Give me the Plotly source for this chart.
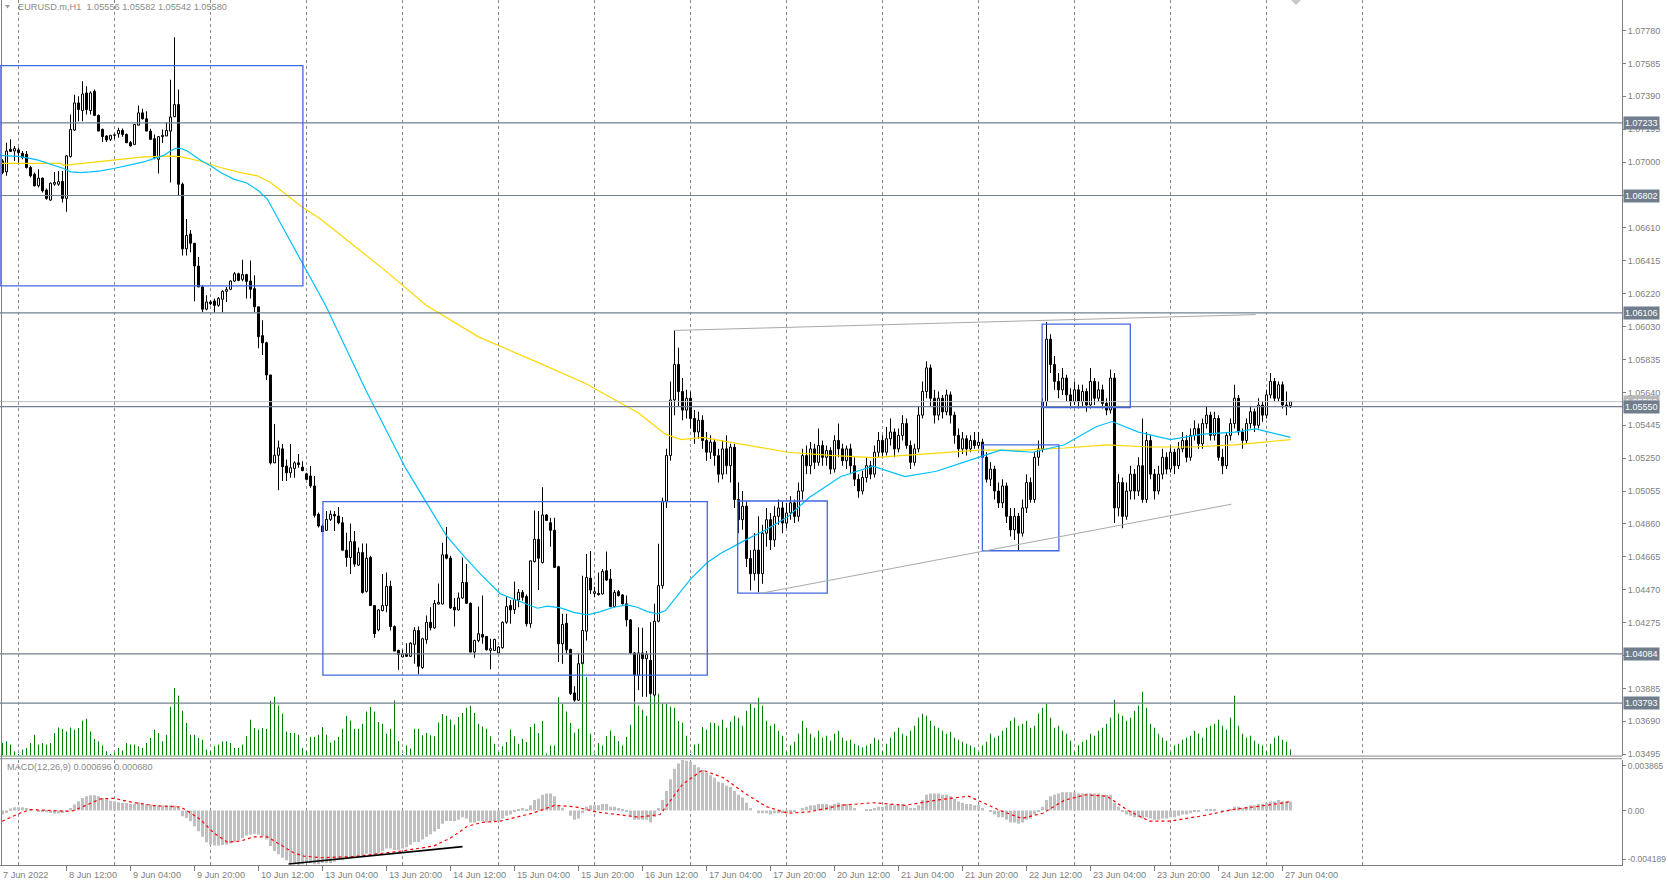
import plotly.graph_objects as go
import pandas as pd

# ---------------- data ----------------
opens = [
1.07007, 1.06942, 1.07076, 1.07066, 1.07072, 1.07052, 1.07046, 1.06968, 1.06928, 1.06860,
1.06905, 1.06834, 1.06775, 1.06869, 1.06869, 1.06885, 1.06785, 1.07033, 1.07190, 1.07351,
1.07306, 1.07410, 1.07306, 1.07420, 1.07277, 1.07194, 1.07155, 1.07135, 1.07159, 1.07168,
1.07188, 1.07164, 1.07115, 1.07105, 1.07219, 1.07292, 1.07257, 1.07184, 1.07139, 1.07017,
1.07151, 1.07155, 1.07184, 1.07269, 1.07341, 1.06869, 1.06486, 1.06574, 1.06519, 1.06384,
1.06260, 1.06128, 1.06171, 1.06177, 1.06151, 1.06187, 1.06234, 1.06246, 1.06295, 1.06338,
1.06305, 1.06333, 1.06295, 1.06250, 1.06142, 1.05971, 1.05929, 1.05738, 1.05217, 1.05262,
1.05300, 1.05198, 1.05158, 1.05184, 1.05217, 1.05192, 1.05152, 1.05139, 1.05080, 1.04912,
1.04843, 1.04817, 1.04882, 1.04912, 1.04902, 1.04862, 1.04699, 1.04656, 1.04750, 1.04611,
1.04685, 1.04455, 1.04656, 1.04371, 1.04227, 1.04341, 1.04371, 1.04485, 1.04247, 1.04105,
1.04066, 1.04086, 1.04070, 1.04141, 1.04223, 1.04003, 1.04168, 1.04272, 1.04239, 1.04380,
1.04380, 1.04672, 1.04652, 1.04361, 1.04345, 1.04416, 1.04508, 1.04384, 1.04095, 1.04164,
1.04200, 1.04188, 1.04105, 1.04105, 1.04090, 1.04121, 1.04272, 1.04371, 1.04347, 1.04404,
1.04449, 1.04424, 1.04263, 1.04632, 1.04764, 1.04626, 1.04908, 1.04862, 1.04817, 1.04601,
1.04144, 1.04266, 1.04111, 1.03853, 1.03810, 1.04026, 1.04219, 1.04534, 1.04443, 1.04443,
1.04440, 1.04577, 1.04528, 1.04365, 1.04453, 1.04434, 1.04381, 1.04286, 1.04090, 1.03958,
1.04090, 1.04056, 1.04046, 1.03840, 1.04278, 1.04489, 1.04990, 1.05261, 1.05590, 1.05800,
1.05640, 1.05530, 1.05600, 1.05480, 1.05400, 1.05470, 1.05350, 1.05280, 1.05340, 1.05260,
1.05150, 1.05300, 1.05200, 1.05310, 1.05000, 1.04880, 1.04960, 1.04650, 1.04560, 1.04700,
1.04560, 1.04800, 1.04880, 1.04760, 1.04900, 1.04950, 1.04860, 1.04920, 1.04980, 1.04900,
1.05050, 1.05260, 1.05200, 1.05300, 1.05220, 1.05320, 1.05250, 1.05290, 1.05180, 1.05350,
1.05300, 1.05230, 1.05300, 1.05200, 1.05120, 1.05050, 1.05130, 1.05200, 1.05150, 1.05280,
1.05350, 1.05280, 1.05360, 1.05400, 1.05300, 1.05380, 1.05450, 1.05320, 1.05220, 1.05300,
1.05500, 1.05640, 1.05780, 1.05600, 1.05500, 1.05600, 1.05520, 1.05620, 1.05500, 1.05380,
1.05300, 1.05360, 1.05300, 1.05350, 1.05320, 1.05340, 1.05250, 1.05120, 1.05180, 1.05050,
1.04980, 1.05080, 1.04900, 1.04820, 1.04900, 1.04800, 1.04950, 1.05100, 1.05000, 1.05250,
1.05300, 1.05580, 1.05950, 1.05800, 1.05700, 1.05650, 1.05720, 1.05620, 1.05580, 1.05650,
1.05580, 1.05640, 1.05560, 1.05700, 1.05600, 1.05650, 1.05570, 1.05530, 1.05720, 1.04950,
1.05100, 1.04900, 1.05050, 1.05150, 1.05050, 1.05200, 1.05000, 1.05350, 1.05150, 1.05050,
1.05150, 1.05250, 1.05180, 1.05280, 1.05200, 1.05300, 1.05350, 1.05250, 1.05380, 1.05420,
1.05330, 1.05450, 1.05500, 1.05380, 1.05480, 1.05250, 1.05200, 1.05380, 1.05450, 1.05600,
1.05400, 1.05350, 1.05450, 1.05520, 1.05440, 1.05560, 1.05500, 1.05620, 1.05700, 1.05600,
1.05680, 1.05560, 1.05556]

highs = [
1.07017, 1.07115, 1.07135, 1.07096, 1.07086, 1.07066, 1.07066, 1.06978, 1.06938, 1.06958,
1.06909, 1.06844, 1.06879, 1.06942, 1.06948, 1.06948, 1.07041, 1.07282, 1.07400, 1.07391,
1.07479, 1.07450, 1.07420, 1.07430, 1.07282, 1.07200, 1.07159, 1.07159, 1.07170, 1.07204,
1.07200, 1.07170, 1.07125, 1.07227, 1.07336, 1.07316, 1.07302, 1.07198, 1.07164, 1.07155,
1.07194, 1.07237, 1.07489, 1.07741, 1.07430, 1.06879, 1.06663, 1.06598, 1.06519, 1.06437,
1.06270, 1.06211, 1.06181, 1.06191, 1.06201, 1.06240, 1.06260, 1.06299, 1.06348, 1.06344,
1.06421, 1.06338, 1.06417, 1.06329, 1.06142, 1.06063, 1.05935, 1.05738, 1.05447, 1.05349,
1.05329, 1.05237, 1.05329, 1.05227, 1.05270, 1.05227, 1.05158, 1.05198, 1.05139, 1.04922,
1.04853, 1.04931, 1.04935, 1.04931, 1.04955, 1.04896, 1.04803, 1.04857, 1.04813, 1.04715,
1.04739, 1.04739, 1.04666, 1.04371, 1.04351, 1.04558, 1.04567, 1.04518, 1.04253, 1.04109,
1.04109, 1.04148, 1.04154, 1.04243, 1.04247, 1.04180, 1.04312, 1.04361, 1.04404, 1.04502,
1.04744, 1.04837, 1.04666, 1.04416, 1.04449, 1.04656, 1.04617, 1.04390, 1.04168, 1.04365,
1.04430, 1.04188, 1.04174, 1.04174, 1.04129, 1.04276, 1.04424, 1.04404, 1.04514, 1.04469,
1.04463, 1.04436, 1.04640, 1.04935, 1.04931, 1.05073, 1.04912, 1.04892, 1.04892, 1.04607,
1.04322, 1.04322, 1.04115, 1.03893, 1.04086, 1.04548, 1.04676, 1.04695, 1.04483, 1.04567,
1.04587, 1.04691, 1.04587, 1.04463, 1.04463, 1.04440, 1.04430, 1.04292, 1.04095, 1.04243,
1.04239, 1.04101, 1.04272, 1.04381, 1.04738, 1.05010, 1.05300, 1.05700, 1.06002, 1.05900,
1.05720, 1.05650, 1.05640, 1.05530, 1.05520, 1.05500, 1.05400, 1.05380, 1.05360, 1.05300,
1.05350, 1.05380, 1.05330, 1.05330, 1.05100, 1.05050, 1.04990, 1.04700, 1.04800, 1.04900,
1.04850, 1.04950, 1.04920, 1.04960, 1.05000, 1.04990, 1.04980, 1.05020, 1.05000, 1.05100,
1.05300, 1.05320, 1.05340, 1.05330, 1.05420, 1.05350, 1.05320, 1.05310, 1.05380, 1.05450,
1.05330, 1.05320, 1.05330, 1.05250, 1.05150, 1.05170, 1.05250, 1.05230, 1.05320, 1.05400,
1.05380, 1.05430, 1.05480, 1.05420, 1.05420, 1.05500, 1.05480, 1.05350, 1.05330, 1.05550,
1.05700, 1.05820, 1.05800, 1.05650, 1.05640, 1.05620, 1.05650, 1.05640, 1.05520, 1.05420,
1.05400, 1.05380, 1.05380, 1.05400, 1.05400, 1.05360, 1.05280, 1.05220, 1.05200, 1.05100,
1.05120, 1.05100, 1.04950, 1.04950, 1.04920, 1.05000, 1.05150, 1.05130, 1.05280, 1.05350,
1.05600, 1.06052, 1.05980, 1.05850, 1.05750, 1.05780, 1.05740, 1.05660, 1.05700, 1.05680,
1.05680, 1.05660, 1.05780, 1.05720, 1.05700, 1.05680, 1.05600, 1.05770, 1.05750, 1.05150,
1.05130, 1.05100, 1.05200, 1.05180, 1.05250, 1.05480, 1.05400, 1.05380, 1.05180, 1.05200,
1.05300, 1.05280, 1.05320, 1.05300, 1.05340, 1.05400, 1.05380, 1.05420, 1.05470, 1.05450,
1.05480, 1.05550, 1.05520, 1.05520, 1.05500, 1.05300, 1.05400, 1.05480, 1.05680, 1.05620,
1.05420, 1.05480, 1.05550, 1.05540, 1.05600, 1.05580, 1.05650, 1.05750, 1.05720, 1.05700,
1.05700, 1.05640, 1.05582]

lows = [
1.06928, 1.06919, 1.07060, 1.07007, 1.06997, 1.07017, 1.06962, 1.06909, 1.06856, 1.06850,
1.06820, 1.06777, 1.06771, 1.06860, 1.06860, 1.06761, 1.06706, 1.07027, 1.07184, 1.07243,
1.07243, 1.07282, 1.07282, 1.07277, 1.07184, 1.07119, 1.07119, 1.07125, 1.07135, 1.07145,
1.07151, 1.07115, 1.07092, 1.07101, 1.07219, 1.07253, 1.07184, 1.07131, 1.07017, 1.06932,
1.07115, 1.07155, 1.06879, 1.07269, 1.06801, 1.06447, 1.06447, 1.06466, 1.06175, 1.06260,
1.06112, 1.06122, 1.06151, 1.06108, 1.06142, 1.06108, 1.06171, 1.06240, 1.06289, 1.06293,
1.06293, 1.06191, 1.06191, 1.06112, 1.05896, 1.05856, 1.05709, 1.05207, 1.05217, 1.05054,
1.05109, 1.05109, 1.05129, 1.05129, 1.05188, 1.05168, 1.05119, 1.05070, 1.04893, 1.04834,
1.04809, 1.04813, 1.04872, 1.04813, 1.04853, 1.04699, 1.04601, 1.04558, 1.04601, 1.04605,
1.04443, 1.04449, 1.04371, 1.04180, 1.04219, 1.04337, 1.04331, 1.04223, 1.04101, 1.03991,
1.04066, 1.04066, 1.04066, 1.04026, 1.03964, 1.03997, 1.04144, 1.04223, 1.04233, 1.04377,
1.04377, 1.04646, 1.04351, 1.04247, 1.04341, 1.04410, 1.04380, 1.04095, 1.04062, 1.04154,
1.04144, 1.04105, 1.03993, 1.04101, 1.04086, 1.04115, 1.04263, 1.04263, 1.04321, 1.04361,
1.04400, 1.04247, 1.04239, 1.04626, 1.04463, 1.04621, 1.04872, 1.04719, 1.04593, 1.04036,
1.04026, 1.04082, 1.03840, 1.03800, 1.03806, 1.04011, 1.04164, 1.04440, 1.04420, 1.04430,
1.04436, 1.04518, 1.04361, 1.04361, 1.04424, 1.04377, 1.04247, 1.04082, 1.03800, 1.03869,
1.03830, 1.03830, 1.03830, 1.03820, 1.04272, 1.04470, 1.04950, 1.05230, 1.05500, 1.05550,
1.05470, 1.05480, 1.05420, 1.05330, 1.05360, 1.05300, 1.05230, 1.05240, 1.05200, 1.05100,
1.05120, 1.05150, 1.05100, 1.04950, 1.04800, 1.04820, 1.04600, 1.04460, 1.04520, 1.04450,
1.04500, 1.04720, 1.04700, 1.04720, 1.04850, 1.04800, 1.04830, 1.04880, 1.04860, 1.04870,
1.05000, 1.05150, 1.05150, 1.05180, 1.05200, 1.05200, 1.05200, 1.05150, 1.05160, 1.05250,
1.05200, 1.05180, 1.05150, 1.05080, 1.05010, 1.05030, 1.05100, 1.05120, 1.05130, 1.05250,
1.05250, 1.05260, 1.05320, 1.05250, 1.05280, 1.05350, 1.05300, 1.05180, 1.05200, 1.05280,
1.05480, 1.05600, 1.05550, 1.05450, 1.05470, 1.05480, 1.05500, 1.05450, 1.05330, 1.05250,
1.05270, 1.05260, 1.05280, 1.05300, 1.05300, 1.05200, 1.05100, 1.05080, 1.05000, 1.04950,
1.04950, 1.04860, 1.04780, 1.04760, 1.04700, 1.04780, 1.04920, 1.04980, 1.04980, 1.05200,
1.05280, 1.05550, 1.05750, 1.05650, 1.05600, 1.05620, 1.05580, 1.05540, 1.05560, 1.05540,
1.05550, 1.05520, 1.05540, 1.05560, 1.05580, 1.05540, 1.05500, 1.05510, 1.04860, 1.04900,
1.04830, 1.04880, 1.05000, 1.05000, 1.05020, 1.04980, 1.04980, 1.05120, 1.05000, 1.05030,
1.05120, 1.05150, 1.05160, 1.05150, 1.05180, 1.05280, 1.05220, 1.05230, 1.05350, 1.05300,
1.05300, 1.05420, 1.05350, 1.05350, 1.05230, 1.05150, 1.05180, 1.05350, 1.05420, 1.05380,
1.05300, 1.05330, 1.05420, 1.05400, 1.05420, 1.05460, 1.05480, 1.05600, 1.05580, 1.05580,
1.05540, 1.05500, 1.05542]

closes = [
1.06938, 1.07066, 1.07064, 1.07080, 1.07056, 1.07027, 1.06968, 1.06919, 1.06860, 1.06905,
1.06830, 1.06785, 1.06875, 1.06879, 1.06885, 1.06785, 1.07037, 1.07194, 1.07351, 1.07312,
1.07404, 1.07312, 1.07410, 1.07277, 1.07184, 1.07151, 1.07131, 1.07159, 1.07162, 1.07188,
1.07164, 1.07115, 1.07096, 1.07223, 1.07292, 1.07257, 1.07184, 1.07135, 1.07027, 1.07151,
1.07159, 1.07188, 1.07267, 1.07341, 1.06869, 1.06486, 1.06565, 1.06519, 1.06384, 1.06260,
1.06128, 1.06171, 1.06161, 1.06151, 1.06191, 1.06234, 1.06244, 1.06295, 1.06338, 1.06299,
1.06333, 1.06293, 1.06246, 1.06142, 1.05965, 1.05929, 1.05738, 1.05217, 1.05262, 1.05306,
1.05194, 1.05158, 1.05188, 1.05217, 1.05207, 1.05172, 1.05119, 1.05080, 1.04906, 1.04843,
1.04809, 1.04882, 1.04912, 1.04902, 1.04862, 1.04699, 1.04656, 1.04750, 1.04617, 1.04685,
1.04449, 1.04652, 1.04371, 1.04204, 1.04345, 1.04371, 1.04485, 1.04247, 1.04101, 1.04082,
1.04082, 1.04070, 1.04148, 1.04223, 1.04011, 1.04174, 1.04272, 1.04239, 1.04384, 1.04390,
1.04672, 1.04652, 1.04357, 1.04345, 1.04416, 1.04508, 1.04384, 1.04095, 1.04164, 1.04204,
1.04184, 1.04109, 1.04115, 1.04170, 1.04125, 1.04272, 1.04365, 1.04345, 1.04406, 1.04449,
1.04420, 1.04263, 1.04636, 1.04764, 1.04652, 1.04908, 1.04876, 1.04817, 1.04597, 1.04144,
1.04259, 1.04109, 1.03850, 1.03810, 1.04026, 1.04223, 1.04538, 1.04463, 1.04453, 1.04436,
1.04573, 1.04522, 1.04365, 1.04449, 1.04430, 1.04381, 1.04286, 1.04090, 1.03958, 1.04090,
1.04056, 1.04080, 1.03850, 1.04278, 1.04489, 1.04990, 1.05261, 1.05590, 1.05800, 1.05640,
1.05530, 1.05600, 1.05480, 1.05400, 1.05470, 1.05350, 1.05280, 1.05340, 1.05260, 1.05150,
1.05300, 1.05200, 1.05310, 1.05000, 1.04880, 1.04960, 1.04650, 1.04560, 1.04700, 1.04560,
1.04800, 1.04880, 1.04760, 1.04900, 1.04950, 1.04860, 1.04920, 1.04980, 1.04900, 1.05050,
1.05260, 1.05200, 1.05300, 1.05220, 1.05320, 1.05250, 1.05290, 1.05180, 1.05350, 1.05300,
1.05230, 1.05300, 1.05200, 1.05120, 1.05050, 1.05130, 1.05200, 1.05150, 1.05280, 1.05350,
1.05280, 1.05360, 1.05400, 1.05300, 1.05380, 1.05450, 1.05320, 1.05220, 1.05300, 1.05500,
1.05640, 1.05780, 1.05600, 1.05500, 1.05600, 1.05520, 1.05620, 1.05500, 1.05380, 1.05300,
1.05360, 1.05300, 1.05350, 1.05320, 1.05340, 1.05250, 1.05120, 1.05180, 1.05050, 1.04980,
1.05080, 1.04900, 1.04820, 1.04900, 1.04800, 1.04950, 1.05100, 1.05000, 1.05250, 1.05300,
1.05580, 1.05950, 1.05800, 1.05700, 1.05650, 1.05720, 1.05620, 1.05580, 1.05650, 1.05580,
1.05640, 1.05560, 1.05700, 1.05600, 1.05650, 1.05570, 1.05530, 1.05720, 1.04950, 1.05100,
1.04900, 1.05050, 1.05150, 1.05050, 1.05200, 1.05000, 1.05350, 1.05150, 1.05050, 1.05150,
1.05250, 1.05180, 1.05280, 1.05200, 1.05300, 1.05350, 1.05250, 1.05380, 1.05420, 1.05330,
1.05450, 1.05500, 1.05380, 1.05480, 1.05250, 1.05200, 1.05380, 1.05450, 1.05600, 1.05400,
1.05350, 1.05450, 1.05520, 1.05440, 1.05560, 1.05500, 1.05620, 1.05700, 1.05600, 1.05680,
1.05560, 1.05556, 1.05580]

# tick volume (hundreds of ticks)
volumes = [
12.7, 14.3, 11, 4.3, 1, 6, 7.7, 12.7, 21, 11,
12.7, 11, 12.7, 22.7, 28.3, 26.7, 24.3, 28.3, 26, 27.7,
35.3, 37, 24.3, 16.7, 14.3, 10, 4.3, 1, 2.7, 7.7,
5, 12.7, 11, 11, 9.3, 7.7, 12.7, 17.7, 26, 22.7,
14.3, 21, 49, 68, 60, 45, 32.7, 21, 21, 17.7,
16, 6, 4.3, 9.3, 11, 14.3, 14.3, 12.7, 7.7, 7.7,
11, 19.3, 36, 27.7, 26, 27.7, 26.7, 55, 59, 50,
42, 24.3, 22.7, 22.7, 21, 7.7, 4.7, 18.7, 18.7, 21,
28.7, 21, 13, 15.3, 18.7, 27, 39.7, 35.3, 27, 27,
32, 44.3, 48.7, 44.3, 33.7, 32, 22, 27, 55.3, 14.7,
1, 10, 7, 27, 27, 20.3, 22.7, 20.3, 19.3, 33,
41.7, 40, 36.3, 31, 38.7, 42.7, 48, 50, 42.7, 32,
29.3, 27, 19.3, 12, 3.3, 9.3, 13.7, 26, 19.3, 12,
17, 13.7, 28.7, 32, 22.7, 34.7, 2, 10, 10, 58.7,
52, 44.3, 32.7, 23, 27, 94, 79, 22, 2, 12.7,
10, 19.3, 25.3, 19.3, 14.7, 10, 18.7, 31, 53.3, 50,
46, 40, 61, 59, 62, 52, 52, 49, 48, 34.7,
33, 20, 1.3, 11, 12, 28.7, 26, 33, 32.7, 30,
36, 28, 34, 40, 38, 30, 45, 52, 48, 58,
50, 35, 30, 32, 25, 20, 4, 10, 14, 22,
35, 28, 22, 18, 25, 18, 20, 15, 22, 25,
18, 15, 16, 12, 10, 8, 10, 12, 18, 16,
4, 12, 18, 24, 28, 22, 20, 25, 30, 38,
42, 40, 35, 30, 28, 25, 22, 24, 18, 16,
14, 12, 10, 8, 3, 10, 14, 22, 18, 20,
25, 28, 35, 38, 30, 32, 35, 28, 30, 42,
48, 52, 38, 28, 30, 25, 22, 15, 4, 10,
14, 16, 22, 20, 25, 28, 32, 38, 56, 42,
40, 35, 38, 45, 50, 64, 48, 32, 28, 22,
18, 15, 3, 10, 12, 16, 18, 20, 25, 22,
18, 28, 30, 32, 36, 30, 26, 38, 60, 30,
22, 18, 20, 15, 12, 10, 4, 12, 18, 20,
16, 14, 6]

macd_main = [
-0.00030, -0.00018, 0.00015, 0.00025, 0.00025, 0.00025, 0.00020, 0.00008, 0.0, -0.00005,
-0.00005, -0.00013, -0.00018, -0.00023, -0.00023, -0.00018, -0.00005, 0.00020, 0.00046, 0.00071,
0.00096, 0.00109, 0.00117, 0.00117, 0.00109, 0.00096, 0.00084, 0.00076, 0.00071, 0.00063,
0.00058, 0.00058, 0.00051, 0.00053, 0.00063, 0.00058, 0.00051, 0.00046, 0.00038, 0.00038,
0.00038, 0.00038, 0.00041, 0.00038, 0.00028, -0.00043, -0.00056, -0.00081, -0.00119, -0.00157,
-0.00200, -0.00241, -0.00258, -0.00266, -0.00266, -0.00263, -0.00258, -0.00251, -0.00241, -0.00225,
-0.00210, -0.00190, -0.00182, -0.00177, -0.00182, -0.00195, -0.00220, -0.00271, -0.00309, -0.00334,
-0.00360, -0.00380, -0.00400, -0.00410, -0.00419, -0.00410, -0.00400, -0.00400, -0.00410, -0.00410,
-0.00400, -0.00400, -0.00400, -0.00390, -0.00380, -0.00380, -0.00370, -0.00360, -0.00350, -0.00340,
-0.00350, -0.00330, -0.00330, -0.00340, -0.00330, -0.00310, -0.00290, -0.00290, -0.00300, -0.00300,
-0.00290, -0.00280, -0.00260, -0.00240, -0.00240, -0.00220, -0.00200, -0.00180, -0.00160, -0.00140,
-0.00100, -0.00080, -0.00080, -0.00080, -0.00070, -0.00050, -0.00060, -0.00090, -0.00090, -0.00080,
-0.00080, -0.00090, -0.00090, -0.00080, -0.00080, -0.00060, -0.00040, -0.00030, -0.00010, 0.00010,
0.00020, 0.00010, 0.00040, 0.00080, 0.00090, 0.00120, 0.00130, 0.00130, 0.00110, 0.00040,
0.00020, 0.00000, -0.00040, -0.00070, -0.00060, -0.00020, 0.00030, 0.00040, 0.00040, 0.00040,
0.00050, 0.00050, 0.00030, 0.00030, 0.00020, 0.00010, -0.00010, -0.00040, -0.00070, -0.00070,
-0.00070, -0.00070, -0.00090, -0.00050, 0.00020, 0.00080, 0.00150, 0.00240, 0.00320, 0.00360,
0.003865, 0.00380, 0.00370, 0.00350, 0.00330, 0.00310, 0.00290, 0.00270, 0.00250, 0.00220,
0.00210, 0.00190, 0.00180, 0.00150, 0.00120, 0.00100, 0.00060, 0.00020, 0.00000, -0.00020,
-0.00020, -0.00020, -0.00030, -0.00020, -0.00020, -0.00020, -0.00020, -0.00010, -0.00010, 0.00000,
0.00020, 0.00030, 0.00040, 0.00040, 0.00050, 0.00050, 0.00050, 0.00040, 0.00050, 0.00060,
0.00050, 0.00050, 0.00040, 0.00020, 0.00000, 0.00000, 0.00010, 0.00010, 0.00020, 0.00030,
0.00030, 0.00040, 0.00050, 0.00040, 0.00040, 0.00050, 0.00040, 0.00020, 0.00020, 0.00040,
0.00080, 0.00120, 0.00130, 0.00130, 0.00130, 0.00120, 0.00120, 0.00110, 0.00090, 0.00070,
0.00060, 0.00050, 0.00050, 0.00040, 0.00040, 0.00020, 0.00000, -0.00010, -0.00030, -0.00050,
-0.00050, -0.00070, -0.00090, -0.00090, -0.00100, -0.00090, -0.00070, -0.00060, -0.00030, -0.00010,
0.00030, 0.00080, 0.00110, 0.00120, 0.00130, 0.00140, 0.00140, 0.00140, 0.00140, 0.00130,
0.00130, 0.00130, 0.00130, 0.00130, 0.00130, 0.00120, 0.00120, 0.00120, 0.00060, 0.00030,
-0.00010, -0.00030, -0.00040, -0.00050, -0.00050, -0.00060, -0.00050, -0.00060, -0.00070, -0.00070,
-0.00060, -0.00060, -0.00050, -0.00050, -0.00040, -0.00030, -0.00030, -0.00020, -0.00010, -0.00010,
0.00000, 0.00010, 0.00010, 0.00010, 0.00000, -0.00010, 0.00000, 0.00010, 0.00030, 0.00030,
0.00020, 0.00030, 0.00040, 0.00040, 0.00050, 0.00050, 0.00060, 0.00070, 0.00070, 0.00080,
0.00070, 0.00070, 0.000696]

signal_idx = [-0.1, 4.5, 7, 10.3, 16.2, 17.8, 21.2, 24.5, 27.8, 32, 37.8, 44.5, 47, 49.5, 52.8,
              56.2, 59.5, 62.8, 66.2, 69.5, 72.8, 75.3, 80, 88, 99.5, 107.8, 112, 116.2, 120,
              124.5, 132.5, 138, 143, 148.4, 159, 164.4, 170, 175, 180.3, 185.7, 191, 196.3,
              201.6, 209.6, 217.6, 225.6, 233.5, 241.5, 249.5, 254.8, 260.1, 265.5, 270.8,
              276.1, 281.4, 286.7, 292, 300, 308, 316, 322]
signal_val = [-0.00081, -0.00018, 0.00008, 0.00003, -0.00005, 0.0, 0.00046, 0.00089, 0.00094,
              0.00066, 0.00038, 0.00028, -0.00018, -0.00068, -0.0017, -0.00241, -0.00233, -0.002,
              -0.002, -0.00258, -0.00322, -0.00347, -0.0036, -0.0035, -0.0031, -0.0027, -0.0021,
              -0.0012, -0.0009, -0.0008, -0.0002, 0.0004, 0.0003, -0.0001, -0.0005, -0.0003,
              0.0020, 0.0031, 0.0025, 0.0013, 0.0003, -0.0002, -0.0001, 0.0004, 0.0006, 0.0004,
              0.0008, 0.0011, 0.0000, -0.0006, -0.0002, 0.0008, 0.0012, 0.0011, 0.0000, -0.0008,
              -0.0008, -0.0004, 0.0001, 0.0004, 0.00068]

ma_fast_idx = [-0.6, 4.5, 8.7, 12, 15.3, 17, 19.5, 22, 24.5, 27.8, 30.3, 32.8, 35.3, 37.8, 40.3,
               42, 43.25, 44.5, 46.2, 49.5, 52, 54.5, 57.8, 61.2, 64, 66.2, 68.7, 71.2, 74.9, 77.8,
               80.75, 91, 100.75, 105.75, 111, 115.3, 119.5, 124.5, 128.7, 133.7, 136.2, 139.5,
               142.8, 146.2, 149.5, 152.8, 156.2, 158.7, 161.2, 163.7, 165.75, 168.7, 172, 176.2,
               179.5, 185.7, 191, 196.3, 201.6, 209.6, 217.6, 225.6, 233.5, 241.5, 249.5, 257.5,
               265.5, 273.4, 277.4, 284, 292, 300, 308, 313.3, 322]
ma_fast_val = [1.07040, 1.07033, 1.07013, 1.06987, 1.06962, 1.06942, 1.06938, 1.06942, 1.06948,
               1.06962, 1.06974, 1.06987, 1.07001, 1.07021, 1.07040, 1.07066, 1.07082, 1.07082,
               1.07066, 1.07011, 1.06978, 1.06938, 1.06899, 1.06875, 1.06830, 1.06781, 1.06673,
               1.06564, 1.06407, 1.06279, 1.06151, 1.05640, 1.05187, 1.04990, 1.04784, 1.04665,
               1.04557, 1.04440, 1.04400, 1.04355, 1.04367, 1.04357, 1.04331, 1.04316, 1.04335,
               1.04361, 1.04375, 1.04361, 1.04335, 1.04322, 1.04341, 1.04430, 1.04528, 1.04626,
               1.04680, 1.04759, 1.04822, 1.04897, 1.05010, 1.05136, 1.05198, 1.05136, 1.05167,
               1.05230, 1.05292, 1.05280, 1.05324, 1.05431, 1.05462, 1.05399, 1.05355, 1.05387,
               1.05399, 1.05418, 1.05368]

ma_slow_idx = [-0.6, 14.5, 15.3, 21.2, 27.8, 35.3, 42, 44.5, 49.5, 54.5, 59.5, 63.7, 67, 71.2, 75,
               79.5, 83.7, 87, 95, 106, 119, 132.5, 145.8, 159, 165.7, 169.7, 175, 185.7, 196.3,
               207, 217.6, 225.6, 233.5, 244.2, 254.8, 265.5, 276.1, 286.7, 297.4, 308, 322]
ma_slow_val = [1.06993, 1.06993, 1.06981, 1.06997, 1.07015, 1.07031, 1.07035, 1.07033, 1.07005,
               1.06968, 1.06938, 1.06919, 1.06879, 1.06801, 1.06732, 1.06663, 1.06584, 1.06525,
               1.06370, 1.06150, 1.05964, 1.05826, 1.05688, 1.05512, 1.05387, 1.05355, 1.05368,
               1.05324, 1.05280, 1.05261, 1.05248, 1.05261, 1.05274, 1.05292, 1.05292, 1.05305,
               1.05324, 1.05311, 1.05311, 1.05324, 1.05355]

level_prices = [1.07233, 1.06802, 1.06106, 1.05550, 1.04084, 1.03793]
bid_price = 1.05580
price_tick_text = ["1.07780", "1.07585", "1.07390", "1.07195", "1.07000", "", "1.06610",
                   "1.06415", "1.06220", "1.06030", "1.05835", "1.05640", "1.05445", "1.05250",
                   "1.05055", "1.04860", "1.04665", "1.04470", "1.04275", "", "1.03885",
                   "1.03690", "1.03495"]
price_tick_top = 1.07780
price_tick_step = 0.00195

box_x0 = [-0.6, 80.1, 183.8, 244.97, 259.9]
box_x1 = [75.1, 176.2, 206.2, 264.1, 281.95]
box_y0 = [1.06266, 1.03958, 1.04445, 1.04696, 1.05544]
box_y1 = [1.07572, 1.04987, 1.04991, 1.05324, 1.06040]

trend_x0 = [167.8, 189.9]
trend_y0 = [1.06002, 1.04445]
trend_x1 = [313.3, 307.2]
trend_y1 = [1.06096, 1.04972]

macd_line_x = [71.5, 115.0]
macd_line_y = [-0.00408, -0.00275]

macd_max_label, macd_min_label = "0.003865", "-0.004189"
macd_range = [-0.004189, 0.003865]
header_text = "EURUSD.m,H1  1.05556 1.05582 1.05542 1.05580"
macd_text = "MACD(12,26,9) 0.000696 0.000680"
start_time = "2022-06-07 20:00"

# ---------------- geometry ----------------
W, H = 1668, 886
PLOT_R = 1622.0
MAIN_BOT = 759.0
MACD_TOP, MACD_BOT = 763.4, 869.4
FONT = "Liberation Sans, Arial, sans-serif"
GREY = "#808080"
FS = 9.2


def fx(px):
    return px / W


def fy(py):
    return 1 - py / H


n = len(closes)
idx = list(range(n))

# hourly bars without weekends
hrs = pd.date_range(start_time, periods=24 * 40, freq="h")
hrs = hrs[hrs.dayofweek < 5]
day_starts = [i for i in range(0, 345) if hrs[i].hour == 0]
label_idx = [i for i in range(16, n, 16)]
label_txt = [f"{hrs[i].day} {hrs[i].strftime('%b')} {hrs[i].strftime('%H:%M')}" for i in label_idx]

fig = go.Figure()

# candles: wicks then bodies
wick_h = [h - l for h, l in zip(highs, lows)]
fig.add_trace(go.Bar(x=idx, base=lows, y=wick_h, width=0.25,
                     marker=dict(color="black", line=dict(width=0)),
                     hoverinfo="skip", yaxis="y"))
body_base = [min(o, c) for o, c in zip(opens, closes)]
body_h = [max(abs(c - o), 0.00001) for o, c in zip(opens, closes)]
body_col = ["white" if c >= o else "black" for o, c in zip(opens, closes)]
fig.add_trace(go.Bar(x=idx, base=body_base, y=body_h, width=0.5,
                     marker=dict(color=body_col, line=dict(color="black", width=1)),
                     hoverinfo="skip", yaxis="y"))

# moving averages
fig.add_trace(go.Scatter(x=ma_slow_idx, y=ma_slow_val, mode="lines",
                         line=dict(color="#FFD700", width=1.2), hoverinfo="skip", yaxis="y"))
fig.add_trace(go.Scatter(x=ma_fast_idx, y=ma_fast_val, mode="lines",
                         line=dict(color="#00BFFF", width=1.2), hoverinfo="skip", yaxis="y"))

# volumes
fig.add_trace(go.Bar(x=idx, y=volumes, width=0.25,
                     marker=dict(color="#008000", line=dict(width=0)),
                     hoverinfo="skip", yaxis="y2"))

# MACD
fig.add_trace(go.Bar(x=idx, y=macd_main, width=0.75,
                     marker=dict(color="#C0C0C0", line=dict(width=0)),
                     hoverinfo="skip", yaxis="y3"))
fig.add_trace(go.Scatter(x=signal_idx, y=signal_val, mode="lines",
                         line=dict(color="#FF0000", width=1.2, dash="dot"),
                         hoverinfo="skip", yaxis="y3"))
fig.add_trace(go.Scatter(x=macd_line_x, y=macd_line_y, mode="lines",
                         line=dict(color="black", width=1.6), hoverinfo="skip", yaxis="y3"))

shapes = []
# dashed day grid
for d in day_starts:
    for (a, b) in [(0, MAIN_BOT), (MACD_TOP, MACD_BOT)]:
        shapes.append(dict(type="line", xref="x", yref="paper", x0=d, x1=d,
                           y0=fy(a), y1=fy(b), layer="below",
                           line=dict(color="#8C8C8C", width=1, dash="3px,3px")))
# horizontal levels
for p in level_prices:
    shapes.append(dict(type="line", xref="paper", yref="y", x0=0, x1=fx(PLOT_R), y0=p, y1=p,
                       line=dict(color="#708090", width=1.2)))
shapes.append(dict(type="line", xref="paper", yref="y", x0=0, x1=fx(PLOT_R), y0=bid_price,
                   y1=bid_price, line=dict(color="#C0C0C0", width=1)))
# rectangles
for a, b, c, d in zip(box_x0, box_x1, box_y0, box_y1):
    shapes.append(dict(type="rect", xref="x", yref="y", x0=a, x1=b, y0=c, y1=d,
                       line=dict(color="#4169E1", width=1.3), fillcolor="rgba(0,0,0,0)"))
# trend lines
for a, b, c, d in zip(trend_x0, trend_y0, trend_x1, trend_y1):
    shapes.append(dict(type="line", xref="x", yref="y", x0=a, y0=b, x1=c, y1=d,
                       line=dict(color="#A9A9A9", width=1)))
# window separators and borders
for yy in (759.5, 762.0):
    shapes.append(dict(type="line", xref="paper", yref="paper", x0=0, x1=fx(PLOT_R),
                       y0=fy(yy), y1=fy(yy), line=dict(color="#A0A0A0", width=1.2)))
shapes.append(dict(type="line", xref="paper", yref="paper", x0=fx(1.5), x1=fx(1.5),
                   y0=fy(0), y1=fy(MACD_BOT), line=dict(color=GREY, width=1)))
# header triangle and shift marker
shapes.append(dict(type="path", xref="paper", yref="paper",
                   path=f"M {fx(5)} {fy(5)} L {fx(10)} {fy(5)} L {fx(7.5)} {fy(8.5)} Z",
                   fillcolor="#9A9A9A", line=dict(width=0)))
shapes.append(dict(type="path", xref="paper", yref="paper",
                   path=f"M {fx(1291)} {fy(0)} L {fx(1301)} {fy(0)} L {fx(1296)} {fy(5)} Z",
                   fillcolor="#C8C8C8", line=dict(width=0)))

ann = []
ann.append(dict(text=header_text, xref="paper", yref="paper", x=fx(16), y=fy(7.5),
                xanchor="left", yanchor="middle", showarrow=False,
                font=dict(family=FONT, size=FS, color="#8A8A8A")))
ann.append(dict(text=macd_text, xref="paper", yref="paper", x=fx(5), y=fy(770.5),
                xanchor="left", yanchor="middle", showarrow=False,
                font=dict(family=FONT, size=FS, color="#8A8A8A")))
# time labels
ann.append(dict(text="7 Jun 2022", xref="x", yref="paper", x=-0.3, y=fy(878.5),
                xanchor="left", yanchor="middle", showarrow=False,
                font=dict(family=FONT, size=FS, color=GREY)))
for i, t in zip(label_idx, label_txt):
    ann.append(dict(text=t, xref="x", yref="paper", x=i + 0.1, y=fy(878.5),
                    xanchor="left", yanchor="middle", showarrow=False,
                    font=dict(family=FONT, size=FS, color=GREY)))
# level labels on the price scale
for p, bg in [(bid_price, "#B8B8B8")] + [(p, "#6F7D8C") for p in level_prices]:
    ann.append(dict(text=f"{p:.5f}", xref="paper", yref="y", x=fx(1623), y=p,
                    xanchor="left", yanchor="middle", showarrow=False, bgcolor=bg,
                    borderpad=1, font=dict(family=FONT, size=9, color="white")))

price_ticks = [price_tick_top - k * price_tick_step for k in range(len(price_tick_text))]
p_top = 1.07780 + 30.7 * 5.902e-5
p_bot = 1.07780 - (MAIN_BOT - 30.7) * 5.902e-5
m_per_px = (macd_range[1] - macd_range[0]) / (MACD_BOT - MACD_TOP)
macd_tick_vals = [macd_range[1] - 6 * m_per_px, 0.0, macd_range[0] + 6 * m_per_px]

fig.update_layout(
    width=W, height=H, margin=dict(l=0, r=0, t=0, b=0),
    paper_bgcolor="white", plot_bgcolor="rgba(0,0,0,0)",
    showlegend=False, barmode="overlay",
    shapes=shapes, annotations=ann,
    xaxis=dict(domain=[0, fx(PLOT_R)], range=[-0.625, 404.875], anchor="y3",
               showgrid=False, zeroline=False, showline=True, linecolor=GREY, linewidth=1,
               ticks="outside", tickvals=label_idx, ticklen=5, tickcolor=GREY,
               showticklabels=False, fixedrange=True),
    yaxis=dict(domain=[fy(MAIN_BOT), 1], range=[p_bot, p_top], side="right", anchor="x",
               showgrid=False, zeroline=False, showline=True, linecolor=GREY, linewidth=1,
               ticks="outside", ticklen=3, tickcolor=GREY, tickvals=price_ticks,
               ticktext=price_tick_text, tickfont=dict(family=FONT, size=9, color=GREY),
               fixedrange=True),
    yaxis2=dict(overlaying="y", range=[0, MAIN_BOT], visible=False, fixedrange=True),
    yaxis3=dict(domain=[fy(MACD_BOT), fy(MACD_TOP)], range=macd_range, side="right",
                anchor="x", showgrid=False, zeroline=False, showline=True, linecolor=GREY,
                linewidth=1, ticks="outside", ticklen=3, tickcolor=GREY,
                tickvals=macd_tick_vals, ticktext=[macd_max_label, "0.00", macd_min_label],
                tickfont=dict(family=FONT, size=8.5, color=GREY), fixedrange=True),
)

fig.write_html("out.html", config={"displayModeBar": False},
               post_script="document.body.style.margin='0px';document.body.style.padding='0px';")
